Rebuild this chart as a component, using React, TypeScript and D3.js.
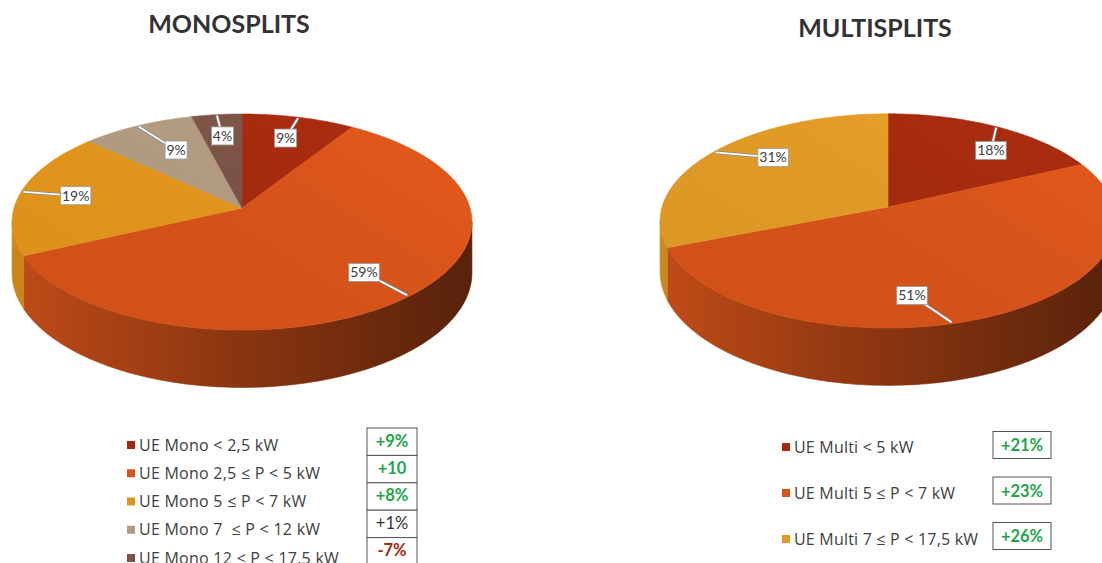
import React from "react";
import * as d3 from "d3";

const monoTitle = "MONOSPLITS";
const multiTitle = "MULTISPLITS";

const monoCategories = [
  "UE Mono < 2,5 kW",
  "UE Mono 2,5 ≤ P < 5 kW",
  "UE Mono 5 ≤ P < 7 kW",
  "UE Mono 7  ≤ P < 12 kW",
  "UE Mono 12 ≤ P < 17,5 kW",
];
const monoValues = [9, 59, 19, 9, 4];
const monoColors = ["#a32a0e", "#d6531a", "#e2951c", "#b09a80", "#7b5346"];
const monoChanges = ["+9%", "+10", "+8%", "+1%", "-7%"];
const monoChangeKind = ["up", "up", "up", "flat", "down"];

const multiCategories = ["UE Multi < 5 kW", "UE Multi 5 ≤ P < 7 kW", "UE Multi 7 ≤ P < 17,5 kW"];
const multiValues = [18, 51, 31];
const multiColors = ["#a32a0e", "#d6531a", "#e19a26"];
const multiChanges = ["+21%", "+23%", "+26%"];
const multiChangeKind = ["up", "up", "up"];

// layout: label placement (radius fraction, angle shift in degrees, leader anchor shift)
const monoLabelPlace = [[0.75, 0, 0], [0.75, 0, 0], [0.75, 0, 0], [0.665, 2.7, 0], [0.75, 0, 0]];
const multiLabelPlace = [[0.757, 7.9, 0], [0.764, 16.2, 9], [0.738, 8.6, 0]];

const W = 1102;
const H = 563;
const FONT = "Lato, 'Open Sans', sans-serif";
const LFONT = "'Open Sans', Lato, sans-serif";

type PieProps = {
  id: string;
  cx: number;
  cy: number;
  A: number;
  values: number[];
  colors: string[];
  place: number[][];
};

function Pie3D({ id, cx, cy, A, values, colors, place }: PieProps) {
  const B = 106.2 * (A / 228);
  const u = 0.1297;
  const depth = 50;
  const proj = (r: number, aDeg: number): [number, number] => {
    const a = (aDeg * Math.PI) / 180;
    const X = r * Math.sin(a);
    const Z = r * Math.cos(a);
    const den = 1 + u * Z;
    return [cx + (A * X) / den, cy - (B * Z) / den];
  };
  const dep = (aDeg: number) => depth / (1 + u * Math.cos((aDeg * Math.PI) / 180));

  const pie = d3.pie<number>().sort(null).value((d) => d);
  const arcs = pie(values);
  const toDeg = (r: number) => (r * 180) / Math.PI;

  const visLo = toDeg(Math.acos(-u));
  const visHi = 360 - visLo;

  const slices = arcs.map((arc, i) => {
    const a0 = toDeg(arc.startAngle);
    const a1 = toDeg(arc.endAngle);
    const n = Math.max(2, Math.ceil(a1 - a0));
    const pts: [number, number][] = [];
    for (let k = 0; k <= n; k++) pts.push(proj(1, a0 + ((a1 - a0) * k) / n));
    const top = `M${cx},${cy}` + pts.map((p) => `L${p[0]},${p[1]}`).join("") + "Z";

    let side: string | null = null;
    const s0 = Math.max(a0, visLo);
    const s1 = Math.min(a1, visHi);
    if (s1 > s0) {
      const m = Math.max(2, Math.ceil(s1 - s0));
      const up: [number, number][] = [];
      const down: [number, number][] = [];
      for (let k = 0; k <= m; k++) {
        const a = s0 + ((s1 - s0) * k) / m;
        const p = proj(1, a);
        up.push(p);
        down.push([p[0], p[1] + dep(a)]);
      }
      side =
        "M" +
        up.map((p) => `${p[0]},${p[1]}`).join("L") +
        "L" +
        down
          .reverse()
          .map((p) => `${p[0]},${p[1]}`)
          .join("L") +
        "Z";
    }
    const mid = (a0 + a1) / 2;
    const [lr, lshift, ashift] = place[i];
    const lp = proj(lr, mid + lshift);
    const ap = proj(0.99, mid + ashift);
    return { top, side, i, lp, ap, value: values[i] };
  });

  const yTop = cy - B / (1 + u);
  const yBot = cy + B / (1 - u);

  return (
    <g>
      <defs>
        {colors.map((c, i) => {
          const col = d3.color(c)!;
          return (
            <React.Fragment key={i}>
              <linearGradient
                id={`${id}-side-${i}`}
                gradientUnits="userSpaceOnUse"
                x1={cx - A}
                x2={cx + A}
                y1={0}
                y2={0}
              >
                <stop offset="0" stopColor={col.darker(0.3).formatHex()} />
                <stop offset="0.45" stopColor={col.darker(1.15).formatHex()} />
                <stop offset="1" stopColor={col.darker(2.5).formatHex()} />
              </linearGradient>
              <linearGradient
                id={`${id}-top-${i}`}
                gradientUnits="userSpaceOnUse"
                x1={cx + A * 0.4}
                x2={cx - A * 0.2}
                y1={yTop}
                y2={yBot}
              >
                <stop offset="0" stopColor={col.brighter(0.12).formatHex()} />
                <stop offset="0.45" stopColor={col.formatHex()} />
                <stop offset="1" stopColor={col.darker(0.06).formatHex()} />
              </linearGradient>
            </React.Fragment>
          );
        })}
      </defs>
      {slices.map((s) =>
        s.side ? (
          <path
            key={"s" + s.i}
            d={s.side}
            fill={`url(#${id}-side-${s.i})`}
            stroke={`url(#${id}-side-${s.i})`}
            strokeWidth={0.6}
          />
        ) : null
      )}
      {slices.map((s) => (
        <path
          key={"t" + s.i}
          d={s.top}
          fill={`url(#${id}-top-${s.i})`}
          stroke={`url(#${id}-top-${s.i})`}
          strokeWidth={0.6}
        />
      ))}
      {slices.map((s) => {
        const txt = `${s.value}%`;
        const w = txt.length * 8.5 + 5;
        const h = 18;
        return (
          <g key={"l" + s.i}>
            <line x1={s.lp[0]} y1={s.lp[1]} x2={s.ap[0]} y2={s.ap[1]} stroke="#8a8a8a" strokeWidth={3.2} />
            <line x1={s.lp[0]} y1={s.lp[1]} x2={s.ap[0]} y2={s.ap[1]} stroke="#ffffff" strokeWidth={1.6} />
            <rect
              x={s.lp[0] - w / 2}
              y={s.lp[1] - h / 2}
              width={w}
              height={h}
              fill="#ffffff"
              stroke="#9a9a9a"
              strokeWidth={0.8}
            />
            <text
              x={s.lp[0]}
              y={s.lp[1] + 5}
              textAnchor="middle"
              fontSize={14}
              fontFamily={FONT}
              fill="#404040"
            >
              {txt}
            </text>
          </g>
        );
      })}
    </g>
  );
}

const changeColor = (k: string) => (k === "up" ? "#1fa64a" : k === "down" ? "#a0290f" : "#333333");
const changeWeight = (k: string) => (k === "flat" ? 400 : 700);

export default function App() {
  const monoRowY = d3.scaleLinear().domain([0, 4]).range([445, 558]);
  const monoBoxY = d3.scaleLinear().domain([0, 5]).range([428, 565]);
  const multiRowY = d3.scaleLinear().domain([0, 2]).range([447, 539]);
  const multiBoxY = d3.scaleLinear().domain([0, 2]).range([431.5, 522.5]);

  return (
    <svg
      width={W}
      height={H}
      viewBox={`0 0 ${W} ${H}`}
      style={{ position: "absolute", left: 0, top: 0, background: "#ffffff" }}
    >
      <rect x={0} y={0} width={W} height={H} fill="#ffffff" />
      <text x={229} y={33} textAnchor="middle" fontSize={25} fontWeight={700} fontFamily={FONT} fill="#333333">
        {monoTitle}
      </text>
      <text x={875} y={37} textAnchor="middle" fontSize={25} fontWeight={700} fontFamily={FONT} fill="#333333">
        {multiTitle}
      </text>

      <Pie3D id="mono" cx={242} cy={208} A={228} values={monoValues} colors={monoColors} place={monoLabelPlace} />
      <Pie3D id="multi" cx={888} cy={207} A={226} values={multiValues} colors={multiColors} place={multiLabelPlace} />

      {monoCategories.map((c, i) => (
        <g key={"ml" + i}>
          <rect x={127} y={monoRowY(i) - 4} width={8} height={8} fill={monoColors[i]} />
          <text
            x={139}
            y={monoRowY(i) + 5.5}
            fontSize={16}
            letterSpacing={0.25}
            fontFamily={LFONT}
            fill="#404040"
            style={{ whiteSpace: "pre" }}
          >
            {c}
          </text>
        </g>
      ))}
      {monoChanges.map((c, i) => (
        <g key={"mc" + i}>
          <rect
            x={367}
            y={monoBoxY(i)}
            width={50}
            height={monoBoxY(i + 1) - monoBoxY(i)}
            fill="#ffffff"
            stroke="#555555"
            strokeWidth={1}
          />
          <text
            x={392}
            y={monoBoxY(i) + 18.5}
            textAnchor="middle"
            fontSize={16.5}
            fontWeight={changeWeight(monoChangeKind[i])}
            fontFamily={FONT}
            fill={changeColor(monoChangeKind[i])}
          >
            {c}
          </text>
        </g>
      ))}

      {multiCategories.map((c, i) => (
        <g key={"xl" + i}>
          <rect x={782} y={multiRowY(i) - 4} width={8} height={8} fill={multiColors[i]} />
          <text
            x={794}
            y={multiRowY(i) + 5.5}
            fontSize={16}
            letterSpacing={0.2}
            fontFamily={LFONT}
            fill="#404040"
            style={{ whiteSpace: "pre" }}
          >
            {c}
          </text>
        </g>
      ))}
      {multiChanges.map((c, i) => (
        <g key={"xc" + i}>
          <rect x={993} y={multiBoxY(i)} width={58} height={27} fill="#ffffff" stroke="#555555" strokeWidth={1} />
          <text
            x={1022}
            y={multiBoxY(i) + 19.5}
            textAnchor="middle"
            fontSize={16.5}
            fontWeight={700}
            fontFamily={FONT}
            fill={changeColor(multiChangeKind[i])}
          >
            {c}
          </text>
        </g>
      ))}
    </svg>
  );
}
